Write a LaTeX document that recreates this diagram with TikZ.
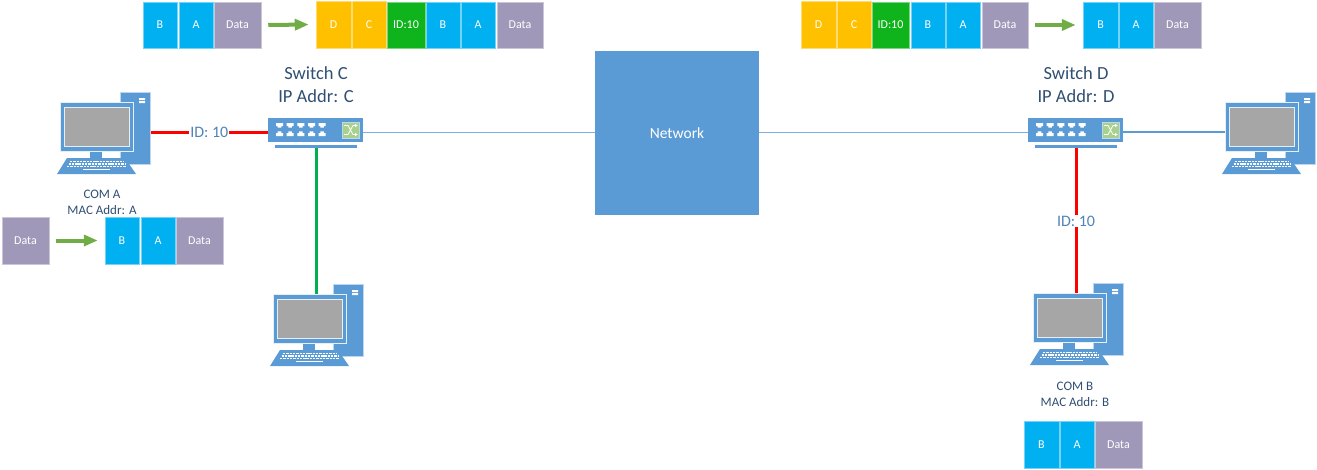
\documentclass[tikz,border=0pt]{standalone}
\usepackage{fontspec}
\setmainfont{Carlito}
\usetikzlibrary{arrows.meta,calc}
\definecolor{netblue}{HTML}{5B9BD5}
\definecolor{lightline}{HTML}{BDD7EE}
\definecolor{pktblue}{HTML}{00B0F0}
\definecolor{pktorange}{HTML}{FFC000}
\definecolor{pktgreen}{HTML}{0FB41C}
\definecolor{pktdata}{HTML}{9F98B8}
\definecolor{arrowgreen}{HTML}{70AD47}
\definecolor{labelblue}{HTML}{2F4F73}
\definecolor{linkgreen}{HTML}{00B050}
\definecolor{iconback}{HTML}{A9D18E}
\tikzset{
  pkt/.style={rectangle,inner sep=0pt,text=white,font=\fontsize{12}{12}\selectfont},
  pktarrow/.style={draw=arrowgreen,line width=4pt,-{Triangle[length=14pt,width=11pt]},shorten <=7pt,shorten >=7pt},
  biglabel/.style={text=labelblue,font=\fontsize{18.5}{23}\selectfont,align=center,inner sep=0pt},
  smalllabel/.style={text=labelblue,font=\fontsize{13}{15.5}\selectfont,align=center,inner sep=0pt},
  idlabel/.style={text=netblue!70!labelblue,fill=white,font=\fontsize{16}{18}\selectfont,inner sep=1pt},
  thinlink/.style={draw=netblue!80!white,line width=1pt},
  redlink/.style={draw=red,line width=3pt},
  greenlink/.style={draw=linkgreen,line width=3pt},
  bluelink/.style={draw=netblue,line width=2.2pt},
  partbox/.style={rectangle,inner sep=0pt,anchor=north west,fill=netblue},
  pics/computer/.style={code={
    \node[partbox,draw=lightline,line width=.7pt,minimum width=30pt,minimum height=72pt] (-tower) at (60,-10) {};
    \fill[white] (79,-4) rectangle (85,-2.2) (79,-1.2) rectangle (85,1);
    \fill[netblue] (30,49) rectangle (42,56);
    \fill[netblue] (7,56) -- (65,56) -- (76,72) -- (-3,72) -- cycle;
    \node[partbox,draw=white!60!lightline,line width=1pt,minimum width=73pt,minimum height=49pt] (-mon) at (0,0) {};
    \fill[gray!70,draw=white!60!lightline,line width=1pt] (4.5,5) rectangle (69,44);
    \foreach \yy/\xa/\xb in {59.5/10/63,62/8.5/65,64.7/7/66}
      \draw[white,line width=1.5pt,dash pattern=on 2.4pt off .9pt] (\xa,\yy) -- (\xb,\yy);
    \fill[white] (23,66.6) rectangle (50,68.4);
  }},
  pics/switchports/.style={code={
    \foreach \cc in {0,...,4}{
      \fill[white] ({8+\cc*10.67},5) rectangle ({15+\cc*10.67},8) ({9.7+\cc*10.67},8) rectangle ({13.3+\cc*10.67},9.6);
      \fill[white] ({8+\cc*10.67},15) rectangle ({15+\cc*10.67},18) ({9.7+\cc*10.67},13.4) rectangle ({13.3+\cc*10.67},15);
    }
    \fill[iconback,draw=lightline,line width=.7pt] (74,4) rectangle (91,20);
    \draw[white,line width=.8pt] (76,7.5) -- (80,7.5) -- (85,16.5) -- (89,16.5) (76,16.5) -- (80,16.5) -- (85,7.5) -- (89,7.5);
    \fill[white] (89.5,7.5) -- (87,5.8) -- (87,9.2) -- cycle (89.5,16.5) -- (87,14.8) -- (87,18.2) -- cycle;
  }}
}
\newcommand{\pk}[7]{\node[pkt,fill=#6,draw=#6!55!white,line width=.5pt,minimum width={(#3-#2)*1pt},minimum height={(#5-#4)*1pt}] (#1) at ({(#2+#3)/2},{(#4+#5)/2}) {#7};}
\begin{document}
\begin{tikzpicture}[x=1pt,y=-1pt]
\useasboundingbox (0,0) rectangle (1317,469);
% network
\node[rectangle,fill=netblue,inner sep=0pt,minimum width=164pt,minimum height=164pt,text=white,font=\fontsize{15.5}{17}\selectfont] (net) at (677,133) {Network};
% switches
\node[partbox,minimum width=95pt,minimum height=24pt] (swC) at (268,118) {};
\node[partbox,minimum width=82pt,minimum height=3pt] (swCb) at (275,145) {};
\pic at (268,118) {switchports};
\node[partbox,minimum width=95pt,minimum height=24pt] (swD) at (1028,118) {};
\node[partbox,minimum width=82pt,minimum height=3pt] (swDb) at (1035,145) {};
\pic at (1028,118) {switchports};
% computers
\pic (comA) at (60,102) {computer};
\pic (comC) at (273,294) {computer};
\pic (comD) at (1225,102) {computer};
\pic (comB) at (1033,293) {computer};
% connectors
\coordinate (swCw) at ([yshift=-2pt]swC.west);
\coordinate (swCe) at ([yshift=-2pt]swC.east);
\coordinate (swDw) at ([yshift=-2pt]swD.west);
\coordinate (swDe) at ([yshift=-2pt]swD.east);
\draw[thinlink] (swCe) -- (swCe -| net.west);
\draw[thinlink] (swDw) -- (swDw -| net.east);
\draw[redlink] (swCw) -- (swCw -| comA-tower.east) node[midway,idlabel] (idA) {ID: 10};
\draw[greenlink] (swCb.south) -- (swCb.south |- comC-mon.north);
\draw[bluelink] (swDe) -- (swDe -| comD-mon.west);
\draw[redlink] (swDb.south) -- (swDb.south |- comB-mon.north);
\node[idlabel] (idB) at (1076,221) {ID: 10};
% labels
\node[biglabel] (lblC) at (316,85) {Switch C\\IP Addr: C};
\node[biglabel] (lblD) at (1076,85) {Switch D\\IP Addr: D};
\node[smalllabel] (lblA) at (102,202.5) {COM A\\MAC Addr: A};
\node[smalllabel] (lblB) at (1075,394.5) {COM B\\MAC Addr: B};
% packet 1
\pk{a1}{143}{177}{2}{48}{pktblue}{B}
\pk{a2}{179}{213}{2}{48}{pktblue}{A}
\pk{a3}{214}{261}{2}{48}{pktdata}{Data}
\pk{b1}{316}{351}{1}{48}{pktorange}{D}
\pk{b2}{352}{386}{1}{48}{pktorange}{C}
\pk{b3}{387}{425}{2}{48}{pktgreen}{ID:10}
\pk{b4}{426}{460}{2}{48}{pktblue}{B}
\pk{b5}{461}{495}{2}{48}{pktblue}{A}
\pk{b6}{497}{543}{2}{48}{pktdata}{Data}
\draw[pktarrow] (a3.east) -- (b1.west);
% packet right
\pk{c1}{801}{836}{1}{48}{pktorange}{D}
\pk{c2}{837}{871}{1}{48}{pktorange}{C}
\pk{c3}{872}{909}{2}{48}{pktgreen}{ID:10}
\pk{c4}{911}{945}{2}{48}{pktblue}{B}
\pk{c5}{946}{980}{2}{48}{pktblue}{A}
\pk{c6}{982}{1028}{2}{48}{pktdata}{Data}
\pk{d1}{1083}{1118}{2}{48}{pktblue}{B}
\pk{d2}{1119}{1153}{2}{48}{pktblue}{A}
\pk{d3}{1154}{1201}{2}{48}{pktdata}{Data}
\draw[pktarrow] (c6.east) -- (d1.west);
% packet left
\pk{e1}{2}{49}{217}{264}{pktdata}{Data}
\pk{f1}{105}{139}{217}{264}{pktblue}{B}
\pk{f2}{141}{175}{217}{264}{pktblue}{A}
\pk{f3}{176}{223}{217}{264}{pktdata}{Data}
\draw[pktarrow] (e1.east) -- (f1.west);
% packet bottom
\pk{g1}{1024}{1059}{421}{468}{pktblue}{B}
\pk{g2}{1060}{1094}{421}{468}{pktblue}{A}
\pk{g3}{1095}{1142}{421}{468}{pktdata}{Data}
\end{tikzpicture}
\end{document}
